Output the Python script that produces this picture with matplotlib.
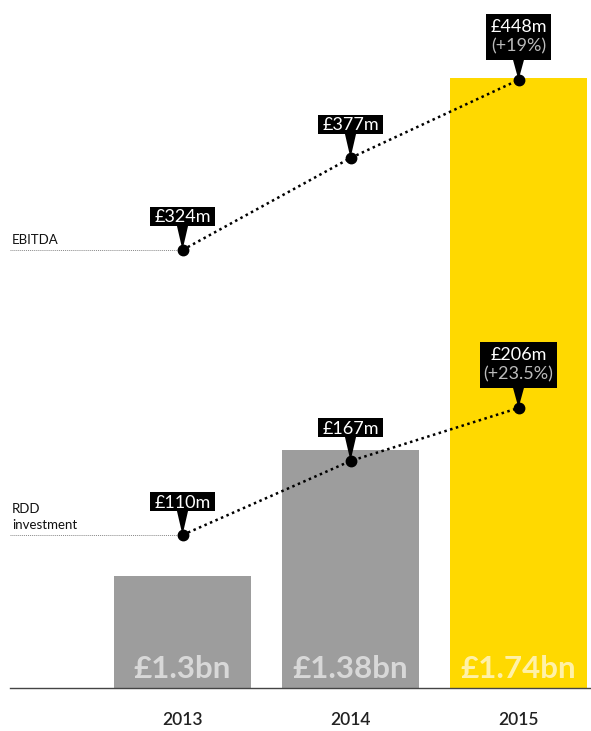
import matplotlib
matplotlib.use("Agg")
import matplotlib.pyplot as plt
from matplotlib.patches import Polygon, Rectangle

plt.rcParams['font.family'] = ['Lato', 'DejaVu Sans']

# data (heights, in pixels above the baseline)
years = ['2013', '2014', '2015']
revenue_labels = ['£1.3bn', '£1.38bn', '£1.74bn']
revenue_level = [112, 238, 610]
ebitda_labels = ['£324m', '£377m', '£448m\n(+19%)']
ebitda_level = [438, 530, 608]
rdd_labels = ['£110m', '£167m', '£206m\n(+23.5%)']
rdd_level = [153, 227, 280]

bar_colors = ['#9d9d9d', '#9d9d9d', '#ffd900']
bar_text_colors = ['#d8d8d8', '#d8d8d8', '#fff1a8']

W, H = 591, 731
fig = plt.figure(figsize=(W / 100, H / 100), dpi=100)
ax = fig.add_axes([0, 0, 1, 1])
ux = 168.0  # pixels per category unit
x0 = 182.5
ax.set_xlim(-x0 / ux, (W - x0) / ux)
ax.set_ylim(-(H - 688), 688)
ax.axis('off')
left = -x0 / ux + 10 / ux

xs = list(range(len(years)))
ax.bar(xs, revenue_level, width=137 / ux, color=bar_colors, zorder=1)
ax.plot([left, (W - x0) / ux], [0, 0], color='#444444', lw=1, zorder=2)

for x, lab, c in zip(xs, revenue_labels, bar_text_colors):
    ax.text(x, 10, lab, ha='center', va='baseline', fontsize=22.5,
            fontweight='bold', color=c, zorder=3)
for x, yr in zip(xs, years):
    ax.text(x, -32, yr, ha='center', va='center', fontsize=12.5,
            fontweight='semibold', color='#222222')

fig.canvas.draw()
renderer = fig.canvas.get_renderer()
inv = ax.transData.inverted()


def series(levels, labels, name):
    ax.plot([left, 0], [levels[0], levels[0]], color='#888888', lw=0.7,
            ls=(0, (1, 1)), zorder=2)
    ax.text(left + 2 / ux, levels[0] + 4, name, ha='left', va='bottom',
            fontsize=9.5, color='#111111', linespacing=1.4)
    ax.plot(xs, levels, color='black', lw=1.8, ls=(0, (1, 1.4)), zorder=4)
    ax.plot(xs, levels, 'o', color='black', ms=7.5, zorder=6)
    for x, y, lab in zip(xs, levels, labels):
        parts = lab.split('\n')
        if len(parts) == 1:
            bottom, top = y + 24, y + 43
            base = [y + 27.5]
        else:
            bottom, top = y + 20, y + 66
            base = [y + 48, y + 29]
        tri = Polygon([(x - 6 / ux, bottom + 2), (x + 6 / ux, bottom + 2), (x, y)],
                      closed=True, fc='black', ec='none', zorder=5)
        ax.add_patch(tri)
        texts = []
        for i, (part, b) in enumerate(zip(parts, base)):
            texts.append(ax.text(x, b, part, ha='center', va='baseline',
                                 fontsize=13, color='white' if i == 0 else '#bbbbbb',
                                 zorder=8))
        boxes = [t.get_window_extent(renderer) for t in texts]
        x_lo = min(bb.x0 for bb in boxes) - 4
        x_hi = max(bb.x1 for bb in boxes) + 4
        (dx0, _), (dx1, _) = inv.transform([(x_lo, 0), (x_hi, 0)])
        ax.add_patch(Rectangle((dx0, bottom), dx1 - dx0, top - bottom,
                               fc='black', ec='none', zorder=7))


series(ebitda_level, ebitda_labels, 'EBITDA')
series(rdd_level, rdd_labels, 'RDD\ninvestment')

fig.savefig('out.png', dpi=100)
